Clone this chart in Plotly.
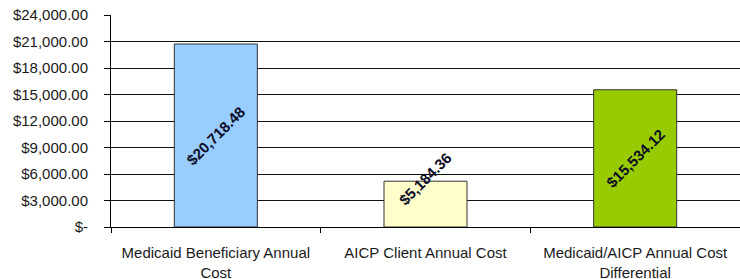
import plotly.graph_objects as go

categories = ["Medicaid Beneficiary Annual<br>Cost", "AICP Client Annual Cost",
              "Medicaid/AICP Annual Cost<br>Differential"]
values = [20718.48, 5184.36, 15534.12]
bar_colors = ["#99CCFF", "#FFFFCC", "#99CC00"]
tick_vals = [0, 3000, 6000, 9000, 12000, 15000, 18000, 21000, 24000]
tick_text = ["$-", "$3,000.00", "$6,000.00", "$9,000.00", "$12,000.00",
             "$15,000.00", "$18,000.00", "$21,000.00", "$24,000.00"]
value_labels = ["$20,718.48", "$5,184.36", "$15,534.12"]

fig = go.Figure()
fig.add_trace(go.Bar(
    x=categories, y=values,
    marker=dict(color=bar_colors, line=dict(color="#333333", width=1)),
    hoverinfo="skip",
))

for c, v, t in zip(categories, values, value_labels):
    ypos = v / 2 if v > 8000 else v * 1.05
    fig.add_annotation(x=c, y=ypos, text="<b>" + t + "</b>", showarrow=False,
                       textangle=-45, font=dict(family="Liberation Sans", size=15, color="#0d0d26"),
                       xanchor="center", yanchor="middle")

fig.update_layout(
    width=740, height=279,
    margin=dict(l=111, r=0, t=15, b=52),
    paper_bgcolor="white", plot_bgcolor="white",
    showlegend=False,
    bargap=0.604,
    font=dict(family="Liberation Sans", size=15, color="#1a1a1a"),
    xaxis=dict(
        showline=True, linecolor="black", linewidth=1, automargin=False,
        ticks="outside", tickson="boundaries", ticklen=5, tickcolor="black",
        showgrid=False, tickfont=dict(size=15), ticklabelstandoff=12,
    ),
    yaxis=dict(
        range=[0, 24000], tickmode="array", tickvals=tick_vals, ticktext=tick_text,
        showline=True, linecolor="black", linewidth=1, automargin=False,
        ticks="outside", ticklen=6, tickcolor="black",
        showgrid=False, zeroline=False,
        tickfont=dict(size=15), ticklabelstandoff=13,
        minor=dict(tickmode="array", tickvals=tick_vals[1:-1], showgrid=True,
                   gridcolor="#111111", gridwidth=1, ticks=""),
    ),
)

fig.write_html("out.html", config={"displayModeBar": False, "staticPlot": True},
               post_script="document.body.style.margin='0';document.body.style.overflow='hidden';")
